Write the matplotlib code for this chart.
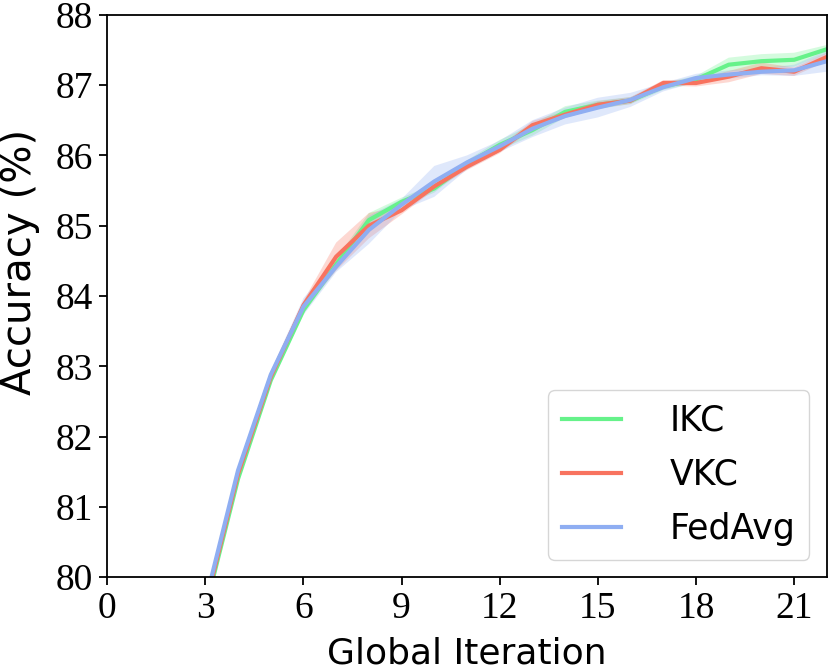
import numpy as np
import matplotlib
matplotlib.use('Agg')
import matplotlib.pyplot as plt

# global iteration index
iterations = list(range(0, 23))

# mean accuracy (%) per iteration
ikc_mean = [68.0, 74.5, 77.8, 79.55, 81.40, 82.80, 83.80, 84.45, 85.08, 85.34, 85.53, 85.88,
            86.15, 86.36, 86.62, 86.72, 86.78, 86.98, 87.08, 87.29, 87.34, 87.36, 87.51]
vkc_mean = [68.0, 74.5, 77.8, 79.60, 81.47, 82.85, 83.87, 84.56, 85.00, 85.22, 85.56, 85.84,
            86.08, 86.43, 86.58, 86.72, 86.78, 87.03, 87.03, 87.12, 87.24, 87.19, 87.40]
fedavg_mean = [68.0, 74.5, 77.8, 79.65, 81.52, 82.88, 83.85, 84.42, 84.94, 85.30, 85.63, 85.90,
               86.13, 86.38, 86.56, 86.68, 86.79, 86.97, 87.10, 87.15, 87.19, 87.21, 87.34]

# spread of the shaded band
ikc_std = [0.1, 0.1, 0.1, 0.04, 0.04, 0.05, 0.05, 0.08, 0.10, 0.06, 0.06, 0.05,
           0.07, 0.08, 0.08, 0.06, 0.05, 0.05, 0.05, 0.10, 0.10, 0.10, 0.06]
vkc_std = [0.1, 0.1, 0.1, 0.04, 0.05, 0.06, 0.06, 0.20, 0.18, 0.06, 0.05, 0.05,
           0.05, 0.06, 0.05, 0.05, 0.05, 0.04, 0.05, 0.08, 0.08, 0.06, 0.06]
fedavg_std = [0.1, 0.1, 0.1, 0.05, 0.05, 0.06, 0.12, 0.08, 0.20, 0.08, 0.22, 0.10,
              0.08, 0.12, 0.12, 0.14, 0.10, 0.06, 0.06, 0.06, 0.05, 0.08, 0.15]

x_ticks = [0, 3, 6, 9, 12, 15, 18, 21]
y_ticks = [80, 81, 82, 83, 84, 85, 86, 87, 88]

series = [
  ('IKC', ikc_mean, ikc_std, '#66F28A'),
  ('VKC', vkc_mean, vkc_std, '#F8735F'),
  ('FedAvg', fedavg_mean, fedavg_std, '#8FAEF2'),
]

LABEL_FONT = 'DejaVu Sans'
TICK_FONT = 'Liberation Serif'

fig = plt.figure(figsize=(8.31, 6.72), dpi=100)
ax = fig.add_axes([0.129, 0.141, 0.866, 0.837])

x = np.array(iterations)
for name, mean, std, color in series:
  m = np.array(mean)
  s = np.array(std)
  ax.fill_between(x, m - s, m + s, color=color, alpha=0.28, linewidth=0)
  ax.plot(x, m, color=color, linewidth=3, label=name)

ax.set_xlim(0, 22)
ax.set_ylim(80, 88)
ax.set_xticks(x_ticks)
ax.set_xticklabels([str(t) for t in x_ticks], fontfamily=TICK_FONT, fontsize=27)
ax.set_yticks(y_ticks)
ax.set_yticklabels([str(t) for t in y_ticks], fontfamily=TICK_FONT, fontsize=27)

ax.tick_params(direction='out', length=6, width=1.3, pad=4)
for sp in ax.spines.values():
  sp.set_linewidth(1.3)

ax.set_xlabel('Global Iteration', fontsize=26, family=LABEL_FONT, labelpad=8)
ax.set_ylabel('Accuracy (%)', fontsize=29, family=LABEL_FONT)
ax.yaxis.set_label_coords(-0.093, 0.56)

ax.legend(loc='lower right', prop={'family': LABEL_FONT, 'size': 25},
          handlelength=1.7, handletextpad=1.4, labelspacing=0.58)

fig.savefig('out.png', dpi=100)
